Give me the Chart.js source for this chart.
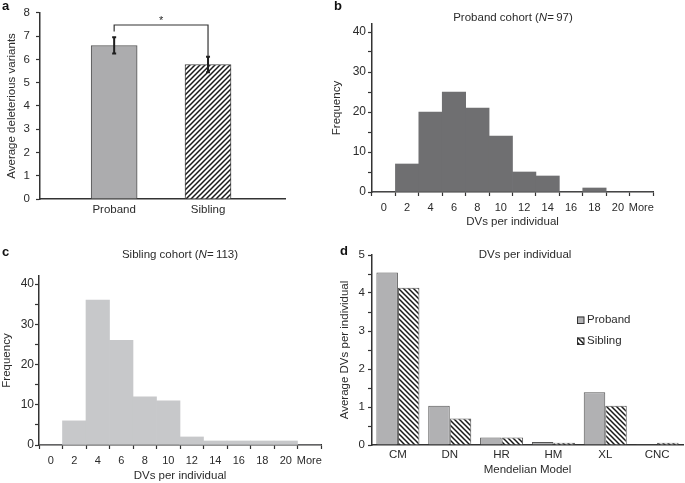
<!DOCTYPE html>
<html>
<head>
<meta charset="utf-8">
<script src="https://cdn.jsdelivr.net/npm/chart.js@4"></script>
<style>
  body { margin: 0; background: #fff; width: 685px; height: 483px; position: relative; overflow: hidden; font-family: 'Liberation Sans', Arial, sans-serif; }
  canvas { position: absolute; }
  .tag { position: absolute; font-weight: bold; font-size: 13px; color: #111; }
</style>
</head>
<body>
<canvas id="chartA" width="330" height="240" style="left:0;top:0"></canvas>
<canvas id="chartB" width="355" height="240" style="left:330px;top:0"></canvas>
<canvas id="chartC" width="330" height="243" style="left:0;top:240px"></canvas>
<canvas id="chartD" width="355" height="243" style="left:330px;top:240px"></canvas>
<div class="tag" style="left:2px;top:-2px">a</div>
<div class="tag" style="left:334px;top:-2px">b</div>
<div class="tag" style="left:2px;top:244px">c</div>
<div class="tag" style="left:340px;top:243px">d</div>
<script>
'use strict';

// panel a
let groupLabels = ['Proband', 'Sibling'];
let groupMeans = [6.6, 5.78];
let groupErrors = [0.35, 0.33];
let bracketLevel = 7.48;
let bracketLegs = [7.2, 6.12];

// panels b and c
let binLabels = ['0', '2', '4', '6', '8', '10', '12', '14', '16', '18', '20', 'More'];
let probandFreq = [0, 7, 20, 25, 21, 14, 5, 4, 0, 1, 0, 0];
let siblingFreq = [0, 6, 36, 26, 12, 11, 2, 1, 1, 1, 1, 0];

// panel d
let modelLabels = ['CM', 'DN', 'HR', 'HM', 'XL', 'CNC'];
let probandDV = [4.54, 1.03, 0.2, 0.08, 1.39, 0.02];
let siblingDV = [4.14, 0.7, 0.2, 0.06, 1.03, 0.06];

let ink = '#333';
let fontFamily = "'Liberation Sans', Arial, sans-serif";
let titleSize = 11.5;

Chart.defaults.font.family = fontFamily;
Chart.defaults.font.size = 11;
Chart.defaults.color = '#2b2b2b';
Chart.defaults.animation = false;
Chart.defaults.plugins.legend.display = false;
Chart.defaults.plugins.tooltip.enabled = false;

function makeHatch(canvasId, dir) {
  let size = 5;
  let tile = document.createElement('canvas');
  tile.width = size;
  tile.height = size;
  let g = tile.getContext('2d');
  g.fillStyle = '#fff';
  g.fillRect(0, 0, size, size);
  g.strokeStyle = '#1a1a1a';
  g.lineWidth = 1.5;
  g.beginPath();
  if (dir === '/') {
    g.moveTo(-1, size + 1); g.lineTo(size + 1, -1);
    g.moveTo(-1, 1); g.lineTo(1, -1);
    g.moveTo(size - 1, size + 1); g.lineTo(size + 1, size - 1);
  } else {
    g.moveTo(-1, -1); g.lineTo(size + 1, size + 1);
    g.moveTo(size - 1, -1); g.lineTo(size + 1, 1);
    g.moveTo(-1, size - 1); g.lineTo(1, size + 1);
  }
  g.stroke();
  return document.getElementById(canvasId).getContext('2d').createPattern(tile, 'repeat');
}

function yAxis(max, step, width, titleText, titlePad, tickPad, labelEvery, tickSize) {
  return {
    min: 0,
    max: max,
    afterFit: function (scale) { scale.width = width; },
    ticks: {
      stepSize: step,
      includeBounds: false,
      padding: tickPad,
      autoSkip: false,
      font: { size: tickSize },
      callback: function (v) {
        return Math.abs(v / labelEvery - Math.round(v / labelEvery)) < 1e-6 ? v : '';
      }
    },
    grid: { drawOnChartArea: false, tickLength: 4, tickColor: ink, tickWidth: 1.2 },
    border: { color: ink, width: 1.5 },
    title: { display: true, text: titleText, font: { size: titleSize }, padding: { top: titlePad, bottom: 0 } }
  };
}

// draws a centred title with an italic N
function cohortTitle(parts, cx, cy) {
  return {
    id: 'cohortTitle',
    afterDraw(chart) {
      let ctx = chart.ctx;
      ctx.save();
      ctx.fillStyle = '#2b2b2b';
      ctx.textBaseline = 'middle';
      let widths = parts.map(p => {
        ctx.font = (p[1] ? 'italic ' : '') + titleSize + 'px ' + fontFamily;
        return ctx.measureText(p[0]).width;
      });
      let total = widths.reduce((a, b) => a + b, 0);
      let x = cx - total / 2;
      parts.forEach((p, i) => {
        ctx.font = (p[1] ? 'italic ' : '') + titleSize + 'px ' + fontFamily;
        ctx.fillText(p[0], x, cy);
        x += widths[i];
      });
      ctx.restore();
    }
  };
}

// panel a: error bars and significance bracket
let errorBars = {
  id: 'errorBars',
  afterDatasetsDraw(chart) {
    let ctx = chart.ctx;
    let x = chart.scales.x;
    let y = chart.scales.y;
    ctx.save();
    ctx.strokeStyle = '#1e1e1e';
    ctx.lineWidth = 2;
    groupMeans.forEach((m, i) => {
      let px = x.getPixelForValue(i + 1);
      let top = y.getPixelForValue(m + groupErrors[i]);
      let bot = y.getPixelForValue(m - groupErrors[i]);
      ctx.beginPath();
      ctx.moveTo(px, top); ctx.lineTo(px, bot);
      ctx.moveTo(px - 2, top); ctx.lineTo(px + 2, top);
      ctx.moveTo(px - 2, bot); ctx.lineTo(px + 2, bot);
      ctx.stroke();
    });
    let x1 = x.getPixelForValue(1);
    let x2 = x.getPixelForValue(2);
    let yb = y.getPixelForValue(bracketLevel);
    ctx.lineWidth = 1.2;
    ctx.strokeStyle = '#333';
    ctx.beginPath();
    ctx.moveTo(x1, y.getPixelForValue(bracketLegs[0]));
    ctx.lineTo(x1, yb);
    ctx.lineTo(x2, yb);
    ctx.lineTo(x2, y.getPixelForValue(bracketLegs[1]));
    ctx.stroke();
    ctx.fillStyle = '#2b2b2b';
    ctx.font = '11px ' + fontFamily;
    ctx.textAlign = 'center';
    ctx.textBaseline = 'alphabetic';
    ctx.fillText('*', (x1 + x2) / 2, yb - 1);
    ctx.restore();
  }
};

new Chart(document.getElementById('chartA'), {
  type: 'bar',
  data: {
    datasets: [{
      data: groupMeans.map((m, i) => ({ x: i + 1, y: m })),
      backgroundColor: ['#acacae', makeHatch('chartA', '/')],
      borderColor: ['#555', '#444'],
      borderWidth: 1,
      barThickness: 46
    }]
  },
  options: {
    responsive: false,
    layout: { padding: { top: 11, right: 45, bottom: 0, left: 0 } },
    scales: {
      x: {
        type: 'linear',
        min: 0.21,
        max: 2.82,
        offset: false,
        afterFit: function (scale) { scale.height = 41; },
        afterBuildTicks: function (scale) { scale.ticks = groupLabels.map((l, i) => ({ value: i + 1 })); },
        ticks: { padding: 4, font: { size: 11.5 }, callback: v => groupLabels[v - 1] },
        grid: { display: false, drawTicks: false, tickLength: 0 },
        border: { color: ink, width: 1.5 }
      },
      y: yAxis(8, 1, 40, 'Average deleterious variants', 5, 6, 1, 11.5)
    }
  },
  plugins: [errorBars]
});

function histogram(canvasId, freq, color, yWidth, xHeight, padTop, padRight, titlePad, tickPad, xTitlePad, title) {
  new Chart(document.getElementById(canvasId), {
    type: 'bar',
    data: {
      labels: binLabels,
      datasets: [{
        data: freq,
        backgroundColor: color,
        borderWidth: 0,
        barPercentage: 1,
        categoryPercentage: 1
      }]
    },
    options: {
      responsive: false,
      layout: { padding: { top: padTop, right: padRight, bottom: 0, left: 0 } },
      scales: {
        x: {
          afterFit: function (scale) { scale.height = xHeight; },
          ticks: { padding: 5, autoSkip: false, maxRotation: 0 },
          grid: { drawOnChartArea: false, offset: true, tickLength: 4, tickColor: ink, tickWidth: 1.2 },
          border: { color: ink, width: 1.5 },
          title: { display: true, text: 'DVs per individual', font: { size: titleSize }, padding: { top: 0, bottom: xTitlePad } }
        },
        y: yAxis(42, 5, yWidth, 'Frequency', titlePad, tickPad, 10, 12)
      }
    },
    plugins: [title]
  });
}

histogram('chartB', probandFreq, '#6f6f71', 42, 48, 24, 32, 0, 2, 11,
  cohortTitle([['Proband cohort (', false], ['N', true], ['=\u200997)', false]], 183, 18));
histogram('chartC', siblingFreq, '#c7c8ca', 39, 38, 36, 9, 0, 1, 0,
  cohortTitle([['Sibling cohort (', false], ['N', true], ['=\u2009113)', false]], 180, 15));

let legendD = {
  id: 'legendD',
  afterDraw(chart) {
    let ctx = chart.ctx;
    let ds = chart.data.datasets;
    ctx.save();
    ctx.font = '11.5px ' + fontFamily;
    ctx.textBaseline = 'middle';
    ds.forEach((d, i) => {
      let cy = 80 + i * 21;
      ctx.fillStyle = d.backgroundColor;
      ctx.fillRect(247, cy - 3.5, 7, 7);
      ctx.strokeStyle = '#333';
      ctx.lineWidth = 1;
      ctx.strokeRect(247.5, cy - 3, 6.5, 6.5);
      ctx.fillStyle = '#2b2b2b';
      ctx.fillText(d.label, 257, cy);
    });
    ctx.restore();
  }
};

new Chart(document.getElementById('chartD'), {
  type: 'bar',
  data: {
    labels: modelLabels,
    datasets: [{
      label: 'Proband',
      data: probandDV,
      backgroundColor: '#b1b1b3',
      borderColor: '#555',
      borderWidth: 1,
      barPercentage: 1,
      categoryPercentage: 0.83
    }, {
      label: 'Sibling',
      data: siblingDV,
      backgroundColor: makeHatch('chartD', '\\'),
      borderColor: '#555',
      borderWidth: 1,
      barPercentage: 1,
      categoryPercentage: 0.83
    }]
  },
  options: {
    responsive: false,
    layout: { padding: { top: 15, right: 2, bottom: 0, left: 0 } },
    scales: {
      x: {
        afterFit: function (scale) { scale.height = 38; },
        ticks: { padding: 3, autoSkip: false, maxRotation: 0, font: { size: 11.5 } },
        grid: { display: false, drawTicks: false, tickLength: 0 },
        border: { color: ink, width: 1.5 },
        title: { display: true, text: 'Mendelian Model', font: { size: titleSize }, padding: { top: 0, bottom: 6 } }
      },
      y: yAxis(5, 0.5, 42, 'Average DVs per individual', 8, 3, 1, 11.5)
    }
  },
  plugins: [legendD, cohortTitle([['DVs per individual', false]], 195, 15)]
});
</script>
</body>
</html>
